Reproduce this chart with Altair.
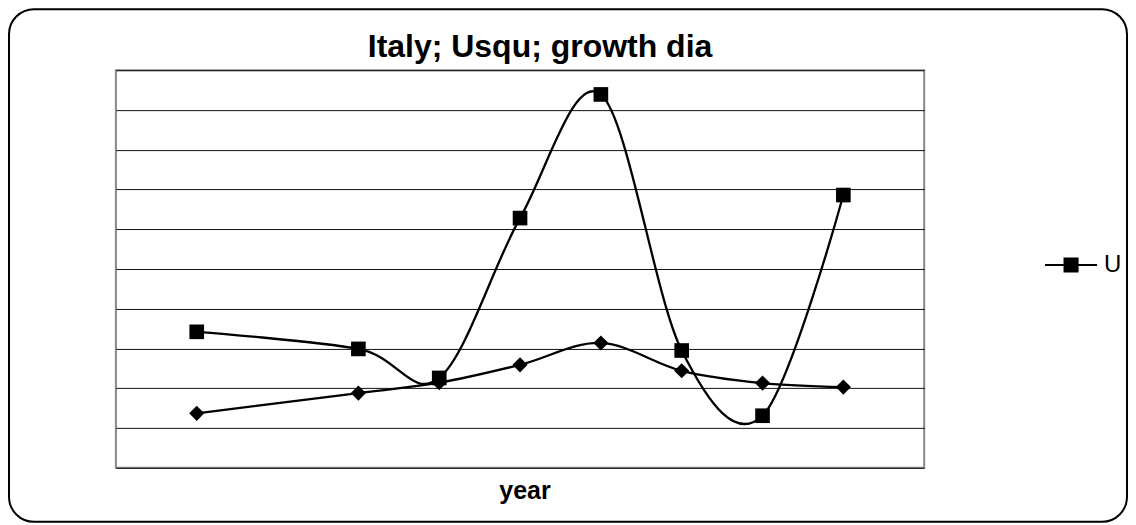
import altair as alt
import pandas as pd

# ---- data ----
years = [1991, 1993, 1994, 1995, 1996, 1997, 1998, 1999]
u_values = [3.42, 2.99, 2.26, 6.28, 9.39, 2.95, 1.31, 6.86]
d_values = [1.37, 1.88, 2.14, 2.59, 3.14, 2.44, 2.13, 2.03]
series_u = "U"
grid_values = list(range(0, 11))
x_domain = [1990, 2000]
y_domain = [0, 10]

df_u = pd.DataFrame({"year": years, "value": u_values, "series": series_u})
df_d = pd.DataFrame({"year": years, "value": d_values})

W, H = 809, 398
FONT = "Liberation Sans"

x = alt.X(
    "year:Q",
    scale=alt.Scale(domain=x_domain, nice=False, zero=False),
    axis=alt.Axis(
        title="year", labels=False, ticks=False, domain=False, grid=False,
        titleFont=FONT, titleFontSize=25, titleFontWeight="bold",
        titleColor="black", titleY=31, titleX=409, titleAlign="center",
        titleBaseline="alphabetic",
    ),
)
y = alt.Y(
    "value:Q",
    scale=alt.Scale(domain=y_domain, nice=False, zero=False),
    axis=alt.Axis(
        title=None, labels=False, ticks=False, domain=False, grid=True,
        values=grid_values, gridColor="#111111", gridWidth=1,
    ),
)

# outer rounded frame (decoration)
frame = alt.Chart(alt.InlineData(values=[{"k": 1}])).mark_rect(
    fill="white", fillOpacity=0, stroke="black", strokeWidth=2, cornerRadius=25
).encode(
    x=alt.value(-107), x2=alt.value(1012), y=alt.value(-61), y2=alt.value(452)
)

d_line = alt.Chart(df_d).mark_line(
    interpolate="cardinal", tension=0, color="black", strokeWidth=2.3
).encode(x=x, y=y)
d_pts = alt.Chart(df_d).mark_point(
    shape="diamond", filled=True, color="black", size=230, opacity=1
).encode(x=x, y=y)

legend_symbol = ("M-1,-0.04L1,-0.04L1,0.04L-1,0.04Z"
                 "M-0.29,-0.29L0.29,-0.29L0.29,0.29L-0.29,0.29Z")

u_line = alt.Chart(df_u).mark_line(
    interpolate="cardinal", tension=0, color="black", strokeWidth=2.3
).encode(x=x, y=y)
u_pts = alt.Chart(df_u).mark_point(
    shape="square", filled=True, size=215, opacity=1
).encode(
    x=x, y=y,
    color=alt.Color(
        "series:N",
        scale=alt.Scale(domain=[series_u], range=["black"]),
        legend=alt.Legend(
            title=None, orient="none", legendX=929, legendY=168, padding=0,
            symbolType=legend_symbol, symbolSize=2704, symbolOpacity=1,
            labelFont=FONT, labelFontSize=24, labelColor="black", labelOffset=6,
        ),
    ),
)

chart = alt.layer(frame, d_line, d_pts, u_line, u_pts).properties(
    width=W, height=H,
    background="white",
    autosize=alt.AutoSizeParams(type="none"),
    padding={"left": 108, "top": 62, "right": 204, "bottom": 55},
    title=alt.TitleParams(
        "Italy; Usqu; growth dia", font=FONT, fontSize=32, fontWeight="bold",
        color="black", anchor="middle", baseline="alphabetic", offset=-81,
        dx=20,
    ),
).configure_view(
    stroke="#888888", strokeWidth=2
)

chart.save("out.html", embed_options={"renderer": "svg", "actions": False})
